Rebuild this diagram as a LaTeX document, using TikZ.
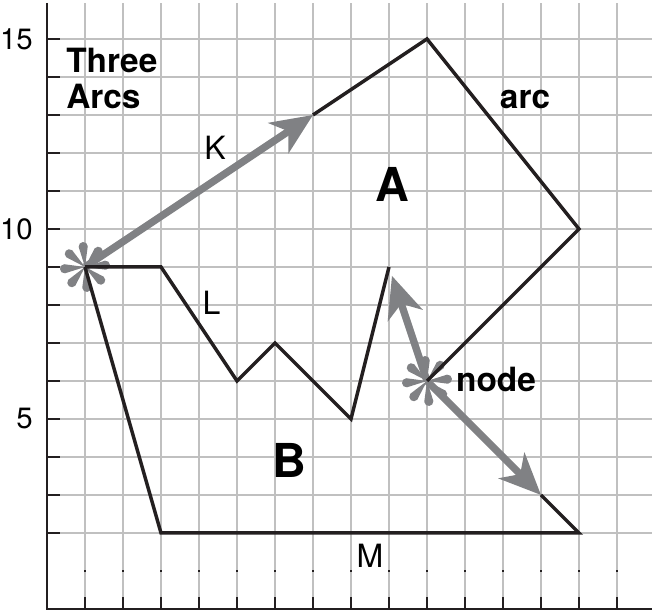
\documentclass[tikz,border=0pt]{standalone}
\usepackage{fontspec}
\setmainfont{TeX Gyre Heros}
\usetikzlibrary{arrows.meta}
\definecolor{gridgray}{RGB}{192,192,192}
\definecolor{arrowgray}{RGB}{128,129,132}
\definecolor{inkblack}{RGB}{35,31,32}
\begin{document}
\begin{tikzpicture}[x=1cm,y=1cm,
  gridline/.style={gridgray,line width=1.5pt},
  axis/.style={inkblack,line width=1.6pt},
  poly/.style={inkblack,line width=2.6pt},
  garrow/.style={arrowgray,line width=5.5pt,-{Stealth[length=31pt,width=27pt,inset=9pt]}},
  numlab/.style={anchor=east,inner sep=0pt,font=\fontsize{22}{26}\selectfont},
  lab/.style={anchor=base,inner sep=0pt,font=\fontsize{24}{28}\selectfont},
  blab/.style={anchor=base,inner sep=0pt,font=\fontsize{25}{27}\selectfont\bfseries},
  biglab/.style={anchor=base,inner sep=0pt,font=\fontsize{35}{40}\selectfont\bfseries},
  burst/.pic={\foreach \a in {0,45,...,315} \fill[arrowgray,rotate=\a] (0,0) -- (0.54,0.12) arc[start angle=90,end angle=-90,radius=0.12] -- cycle;}]
\path[use as bounding box] (-1.237,-0.053) rectangle (15.921,16.026);
\foreach \i in {1,...,15} \draw[gridline] (\i,0) -- (\i,15.95);
\foreach \j in {2,...,15} \draw[gridline] (0,\j) -- (15.93,\j);
\draw[axis] (0,15.95) -- (0,0) -- (15.93,0);
\foreach \j in {2,...,15} \draw[axis] (0,\j) -- (0.34,\j);
\foreach \i in {1,...,15} {\draw[axis] (\i,0) -- (\i,0.32); \draw[axis] (\i,0.97) -- (\i,1.03);}
\node[numlab] (y15) at (-0.37,15) {15};
\node[numlab] (y10) at (-0.37,10) {10};
\node[numlab] (y5) at (-0.37,5) {5};
\coordinate (s1) at (1,9);
\coordinate (s2) at (10,6);
\coordinate (k) at (7,13);
\coordinate (top) at (10,15);
\coordinate (rt) at (14,10);
\coordinate (l1) at (3,9);
\coordinate (l2) at (5,6);
\coordinate (l3) at (6,7);
\coordinate (l4) at (8,5);
\coordinate (peak) at (9,9);
\coordinate (m1) at (3,2);
\coordinate (m2) at (14,2);
\coordinate (tipm) at (13,3);
\pic[rotate=5] at (s1) {burst};
\pic[rotate=5] at (s2) {burst};
\draw[garrow] (s1) -- (k);
\draw[garrow,shorten >=7pt] (s2) -- (peak);
\draw[garrow] (s2) -- (tipm);
\draw[poly] (k) -- (top) -- (rt) -- (s2);
\draw[poly] (s1) -- (l1) -- (l2) -- (l3) -- (l4) -- (peak);
\draw[poly] (s1) -- (m1) -- (m2) -- (tipm);
\node[blab,anchor=north west,align=left] (title) at (0.5,14.76) {Three\\Arcs};
\node[blab] (arc) at (12.58,13.18) {arc};
\node[biglab] (A) at (9.08,10.71) {A};
\node[biglab] (B) at (6.37,3.47) {B};
\node[lab] (K) at (4.42,11.82) {K};
\node[lab] (L) at (4.33,7.74) {L};
\node[lab] (M) at (8.5,1.1) {M};
\node[blab,anchor=base west] (nd) at (10.76,5.71) {node};
\end{tikzpicture}
\end{document}
